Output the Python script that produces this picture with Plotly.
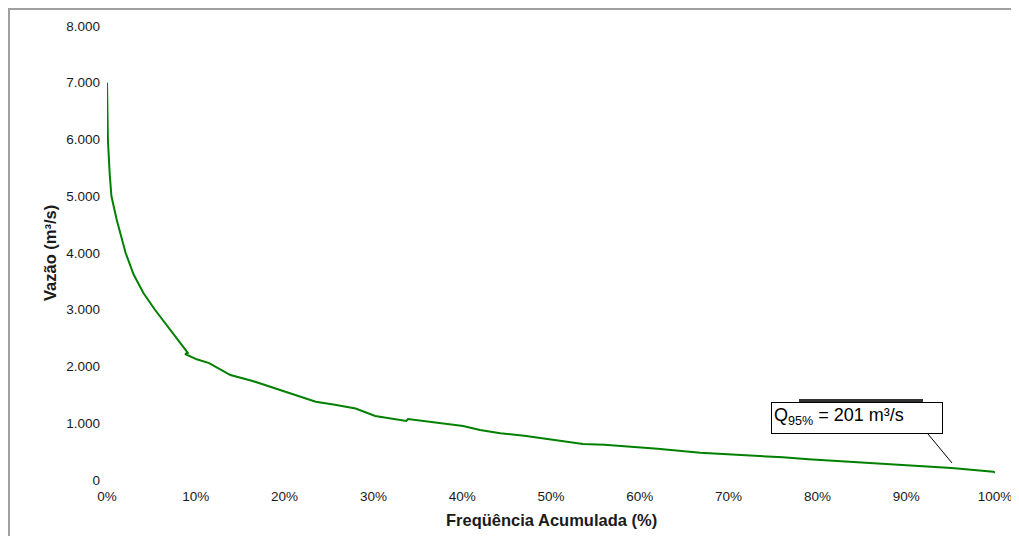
import plotly.graph_objects as go

# Data (cumulative frequency %, discharge m3/s)
freq = [0, 0.1, 0.3, 0.5, 1.1, 2.1, 3.0, 4.1, 5.4, 7.2, 9.1, 8.8, 10.1, 11.5, 12.7,
        13.9, 16.4, 19.5, 21.6, 23.5, 25.5, 28.0, 30.2, 32.0, 33.7, 33.9, 36.0, 38.0,
        40.1, 42.0, 44.3, 47.0, 50.2, 53.6, 56.0, 59.2, 62.0, 66.8, 70.0, 73.0, 76.1,
        79.0, 81.8, 85.0, 89.3, 92.0, 95.1, 97.0, 99.8, 100]
flow = [7000, 6000, 5400, 5000, 4580, 4000, 3620, 3295, 3000, 2620, 2240, 2220, 2127,
        2060, 1955, 1850, 1745, 1586, 1468, 1380, 1330, 1260, 1128, 1080, 1040, 1075,
        1030, 990, 951, 880, 822, 780, 705, 634, 620, 587, 550, 478, 455, 430, 400,
        365, 340, 310, 264, 240, 210, 185, 147, 130]

x_tickvals = [0, 10, 20, 30, 40, 50, 60, 70, 80, 90, 100]
x_ticktext = ["0%", "10%", "20%", "30%", "40%", "50%", "60%", "70%", "80%", "90%", "100%"]
y_tickvals = [0, 1000, 2000, 3000, 4000, 5000, 6000, 7000, 8000]
y_ticktext = ["0", "1.000", "2.000", "3.000", "4.000", "5.000", "6.000", "7.000", "8.000"]

q95_flow = 300

O = 8  # page offset of the figure (browser body margin)
W, H = 1019 - O, 536 - O
L, T = 107 - O, 26 - O
R = W - (995 - O)
B = H - (480 - O)
pw, ph = W - L - R, H - T - B

def px_x(px):
    return (px - O - L) / pw

def px_y(py):
    return (H - B - (py - O)) / ph

FONT = "Arial, Liberation Sans, sans-serif"
TXT = "#1a1a1a"

fig = go.Figure()
fig.add_trace(go.Scatter(x=freq, y=flow, mode="lines",
                         line=dict(color="#008000", width=2), showlegend=False,
                         hoverinfo="skip"))

fig.update_layout(
    template="none",
    width=W, height=H,
    margin=dict(l=L, r=R, t=T, b=B, autoexpand=False),
    paper_bgcolor="white", plot_bgcolor="white",
    font=dict(family=FONT, size=13.5, color=TXT),
    xaxis=dict(range=[0, 100], tickvals=x_tickvals, ticktext=x_ticktext,
               showgrid=False, zeroline=False, showline=False, ticks="",
               automargin=False, ticklabelstandoff=6,
               tickfont=dict(family=FONT, size=13.5, color=TXT)),
    yaxis=dict(range=[0, 8000], tickvals=y_tickvals, ticktext=y_ticktext,
               showgrid=False, zeroline=False, showline=False, ticks="",
               automargin=False, ticklabelstandoff=6,
               tickfont=dict(family=FONT, size=13.5, color=TXT)),
)

# axis titles
fig.add_annotation(xref="paper", yref="paper", x=px_x(551), y=px_y(520),
                   xanchor="center", yanchor="middle", showarrow=False,
                   text="<b>Freqüência Acumulada (%)</b>",
                   font=dict(family=FONT, size=16.5, color=TXT))
fig.add_annotation(xref="paper", yref="paper", x=px_x(50), y=px_y(253),
                   xanchor="center", yanchor="middle", showarrow=False, textangle=-90,
                   text="<b>Vazão (m³/s)</b>",
                   font=dict(family=FONT, size=16.5, color=TXT))

# outer chart border (left and top edges visible in the frame)
fig.add_shape(type="line", xref="paper", yref="paper",
              x0=px_x(9), x1=px_x(9), y0=px_y(545), y1=px_y(8),
              line=dict(color="#a0a0a0", width=2))
fig.add_shape(type="line", xref="paper", yref="paper",
              x0=px_x(8), x1=px_x(1030), y0=px_y(9), y1=px_y(9),
              line=dict(color="#a0a0a0", width=2))

# dark bar above the label box
fig.add_shape(type="line", xref="paper", yref="paper",
              x0=px_x(799), x1=px_x(923), y0=px_y(400.5), y1=px_y(400.5),
              line=dict(color="#333", width=3))

# leader line
fig.add_shape(type="line", xref="paper", yref="y",
              x0=px_x(928), y0=px_y(434) * 8000, x1=px_x(952), y1=q95_flow,
              line=dict(color="black", width=1))

# label box
fig.add_annotation(xref="paper", yref="paper",
                   x=px_x(771), y=px_y(402), xanchor="left", yanchor="top",
                   text="Q<sub>95%</sub> = 201 m³/s", showarrow=False,
                   font=dict(family=FONT, size=18, color="black"),
                   align="left", valign="top", width=166, height=26,
                   bgcolor="white", bordercolor="black", borderwidth=1, borderpad=2)

fig.write_html("out.html",
               post_script="document.documentElement.style.overflow='hidden';"
                           "document.body.style.overflow='hidden';")
